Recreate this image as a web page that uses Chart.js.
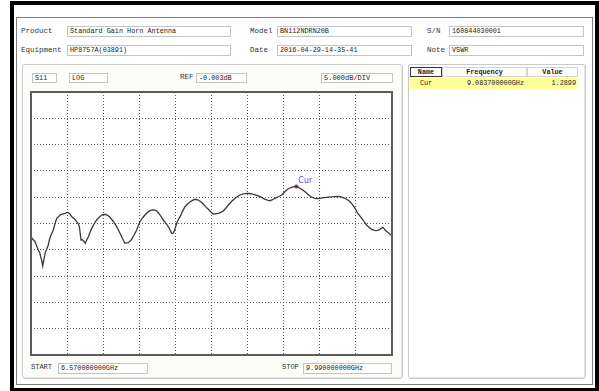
<!DOCTYPE html>
<html>
<head>
<meta charset="utf-8">
<script src="https://cdn.jsdelivr.net/npm/chart.js@4"></script>
<style>
  html, body { margin: 0; padding: 0; background: #fff; }
  body { width: 599px; height: 391px; position: relative; overflow: hidden;
         font-family: "Liberation Mono", "DejaVu Sans Mono", monospace; color: #222; }
  .abs { position: absolute; box-sizing: border-box; }
  .frame { left: 10px; top: 1px; width: 589px; height: 390px; border: 4px solid #000; border-bottom-width: 3px; }
  .win { left: 16px; top: 17px; width: 577px; height: 368px; border: 1px solid #7c7c7c; }
  .lbl { font-size: 7.5px; line-height: 11px; white-space: nowrap; color: #333; }
  .box { border: 1px solid #c4c4c4; background: #fff; font-size: 6.8px; line-height: 9px;
         padding-left: 2px; white-space: nowrap; overflow: hidden; }
  .panel { border: 1px solid #c9c9c9; border-radius: 3px; background: #fcfcf9;
           box-shadow: inset 1px 1px 0 #fff, inset -1px -1px 0 #e6e6e6; }
  .cell { font-size: 6.8px; line-height: 9px; white-space: nowrap; }
  .hdr { font-weight: bold; text-align: center; border: 1px solid #d4d4d4; background: #fff; }
  canvas { position: absolute; }
</style>
</head>
<body>
<div class="abs frame"></div>
<div class="abs win"></div>

<!-- header fields -->
<div class="abs lbl" style="left:21px; top:26px;">Product</div>
<div class="abs box" style="left:67px; top:26px; width:164px; height:11px;" id="fProduct"></div>
<div class="abs lbl" style="left:250px; top:26px;">Model</div>
<div class="abs box" style="left:277px; top:26px; width:135px; height:11px;" id="fModel"></div>
<div class="abs lbl" style="left:427px; top:26px;">S/N</div>
<div class="abs box" style="left:449px; top:26px; width:135px; height:11px;" id="fSn"></div>

<div class="abs lbl" style="left:21px; top:45px;">Equipment</div>
<div class="abs box" style="left:67px; top:45px; width:164px; height:11px;" id="fEquip"></div>
<div class="abs lbl" style="left:250px; top:45px;">Date</div>
<div class="abs box" style="left:277px; top:45px; width:135px; height:11px;" id="fDate"></div>
<div class="abs lbl" style="left:427px; top:45px;">Note</div>
<div class="abs box" style="left:449px; top:45px; width:135px; height:11px;" id="fNote"></div>

<!-- trace panel -->
<div class="abs panel" style="left:22px; top:64px; width:381px; height:315px;"></div>
<div class="abs box" style="left:32px; top:73px; width:25px; height:10px;" id="fParam"></div>
<div class="abs box" style="left:69px; top:73px; width:39px; height:10px;" id="fFormat"></div>
<div class="abs lbl" style="left:180px; top:72px;">REF</div>
<div class="abs box" style="left:196px; top:73px; width:51px; height:10px;" id="fRef"></div>
<div class="abs box" style="left:321px; top:73px; width:72px; height:10px; font-size:7px;" id="fScale"></div>

<div class="abs lbl" style="left:31px; top:362px; font-size:7px;">START</div>
<div class="abs box" style="left:58px; top:363px; width:90px; height:11px;" id="fStart"></div>
<div class="abs lbl" style="left:282px; top:362px; font-size:7px;">STOP</div>
<div class="abs box" style="left:303px; top:363px; width:89px; height:11px;" id="fStop"></div>

<!-- marker table panel -->
<div class="abs panel" style="left:408px; top:64px; width:178px; height:315px; background:#fff;"></div>
<div class="abs cell hdr" style="left:410px; top:67px; width:32px; height:10px; border:1.5px solid #333;">Name</div>
<div class="abs cell hdr" style="left:442px; top:67px; width:85px; height:10px;">Frequency</div>
<div class="abs cell hdr" style="left:527px; top:67px; width:51px; height:10px;">Value</div>
<div class="abs" style="left:410px; top:78px; width:167px; height:11px; background:#ffff9c;"></div>
<div class="abs cell" style="left:410px; top:79px; width:32px; text-align:center;" id="mName"></div>
<div class="abs cell" style="left:442px; top:79px; width:82px; text-align:right;" id="mFreq"></div>
<div class="abs cell" style="left:527px; top:79px; width:49px; text-align:right;" id="mVal"></div>

<canvas id="trace" width="369" height="271" style="left:27px; top:88px;"></canvas>

<script>
// Measurement header
const PRODUCT = 'Standard Gain Horn Antenna';
const MODEL = 'BN112NDRN20B';
const SERIAL = '160844030001';
const EQUIPMENT = 'HP8757A(03891)';
const DATE = '2016-04-29-14-35-41';
const NOTE = 'VSWR';

// Display settings
const PARAM = 'S11';
const FORMAT = 'LOG';
const REF_DB = -0.003;
const DB_PER_DIV = 5;
const START_GHZ = 6.57;
const STOP_GHZ = 9.99;

// Grid division positions (10 x 10)
const X_DIVS = [6.570, 6.912, 7.254, 7.596, 7.938, 8.280, 8.622, 8.964, 9.306, 9.648, 9.990];
const Y_DIVS = [-50.003, -45.003, -40.003, -35.003, -30.003, -25.003, -20.003, -15.003, -10.003, -5.003, -0.003];

// S11 trace (GHz, dB)
const FREQ_GHZ = [
  6.570, 6.585, 6.608, 6.625, 6.639, 6.652, 6.662, 6.672, 6.681, 6.690,
  6.703, 6.718, 6.734, 6.745, 6.757, 6.770, 6.781, 6.797, 6.813, 6.830,
  6.845, 6.868, 6.892, 6.910, 6.923, 6.940, 6.956, 6.980, 7.003, 7.018,
  7.028, 7.037, 7.044, 7.055, 7.066, 7.076, 7.084, 7.098, 7.113, 7.128,
  7.145, 7.168, 7.192, 7.216, 7.240, 7.256, 7.271, 7.295, 7.318, 7.350,
  7.382, 7.405, 7.429, 7.445, 7.460, 7.476, 7.492, 7.508, 7.524, 7.548,
  7.571, 7.587, 7.603, 7.626, 7.650, 7.673, 7.697, 7.721, 7.745, 7.760,
  7.776, 7.800, 7.823, 7.847, 7.871, 7.887, 7.903, 7.914, 7.925, 7.938,
  7.950, 7.966, 7.982, 8.005, 8.029, 8.052, 8.076, 8.100, 8.124, 8.140,
  8.155, 8.178, 8.202, 8.226, 8.250, 8.273, 8.297, 8.320, 8.344, 8.368,
  8.392, 8.415, 8.439, 8.470, 8.503, 8.527, 8.550, 8.582, 8.613, 8.637,
  8.661, 8.692, 8.723, 8.755, 8.787, 8.811, 8.834, 8.858, 8.882, 8.914,
  8.945, 8.968, 8.992, 9.016, 9.040, 9.062, 9.0837, 9.100, 9.118, 9.142,
  9.166, 9.190, 9.213, 9.237, 9.261, 9.284, 9.308, 9.340, 9.371, 9.402,
  9.434, 9.466, 9.497, 9.521, 9.545, 9.568, 9.592, 9.616, 9.640, 9.655,
  9.671, 9.687, 9.703, 9.727, 9.750, 9.774, 9.798, 9.822, 9.845, 9.860,
  9.876, 9.890, 9.902, 9.913, 9.924, 9.940, 9.955, 9.972, 9.990
];
const S11_DB = [
  -27.51, -27.95, -28.46, -29.35, -30.04, -30.52, -31.31, -32.10, -33.08, -32.05,
  -30.67, -29.88, -29.09, -28.05, -27.38, -26.70, -26.24, -25.05, -24.01, -23.72,
  -23.39, -23.21, -23.06, -22.89, -22.95, -23.25, -23.71, -24.10, -24.66, -25.05,
  -25.61, -27.02, -28.14, -28.05, -28.27, -28.52, -28.77, -28.15, -27.51, -26.78,
  -25.92, -25.06, -24.34, -23.80, -23.39, -23.30, -23.25, -23.45, -23.82, -24.62,
  -25.61, -26.52, -27.51, -28.20, -28.77, -28.70, -28.65, -28.40, -28.00, -27.15,
  -26.24, -25.40, -24.66, -23.95, -23.39, -22.88, -22.57, -22.40, -22.44, -22.61,
  -22.95, -23.60, -24.34, -24.95, -25.61, -26.20, -26.87, -26.92, -26.56, -25.80,
  -24.96, -24.25, -23.71, -22.70, -21.81, -21.30, -20.92, -20.60, -20.40, -20.45,
  -20.54, -20.86, -21.30, -21.85, -22.30, -22.80, -23.20, -23.15, -23.06, -22.90,
  -22.63, -22.10, -21.49, -20.82, -20.21, -19.88, -19.58, -19.35, -19.26, -19.30,
  -19.39, -19.55, -19.77, -20.05, -20.40, -20.55, -20.67, -20.48, -20.21, -19.92,
  -19.58, -19.12, -18.63, -18.30, -18.12, -18.00, -17.95, -18.10, -18.31, -18.60,
  -18.96, -19.40, -19.77, -20.05, -20.21, -20.28, -20.21, -20.10, -20.02, -19.95,
  -19.91, -19.85, -19.91, -20.02, -20.21, -20.50, -20.86, -21.40, -22.11, -22.70,
  -23.20, -23.60, -24.01, -24.70, -25.29, -25.75, -26.11, -26.30, -26.37, -26.25,
  -26.11, -25.90, -25.73, -25.95, -26.24, -26.52, -26.75, -27.05, -27.32
];

// Marker readout
const CURSOR_NAME = 'Cur';
const CURSOR_FREQ_GHZ = 9.0837;
const CURSOR_VSWR = 1.2899;

// VSWR -> return loss in dB, so the marker sits at the value it reports
const vswrToDb = v => 20 * Math.log10((v - 1) / (v + 1));

function setText(id, t) { document.getElementById(id).textContent = t; }
setText('fProduct', PRODUCT);
setText('fModel', MODEL);
setText('fSn', SERIAL);
setText('fEquip', EQUIPMENT);
setText('fDate', DATE);
setText('fNote', NOTE);
setText('fParam', PARAM);
setText('fFormat', FORMAT);
setText('fRef', REF_DB.toFixed(3) + 'dB');
setText('fScale', DB_PER_DIV.toFixed(3) + 'dB/DIV');
setText('fStart', START_GHZ.toFixed(9) + 'GHz');
setText('fStop', STOP_GHZ.toFixed(9) + 'GHz');
setText('mName', CURSOR_NAME);
setText('mFreq', CURSOR_FREQ_GHZ.toFixed(9) + 'GHz');
setText('mVal', CURSOR_VSWR.toFixed(4));

// White graticule background and solid frame around it
const graticule = {
  id: 'graticule',
  beforeDraw(chart) {
    const { ctx, chartArea: a } = chart;
    ctx.save();
    ctx.fillStyle = '#ffffff';
    ctx.fillRect(a.left, a.top, a.right - a.left, a.bottom - a.top);
    ctx.restore();
  },
  afterDraw(chart) {
    const { ctx, chartArea: a } = chart;
    ctx.save();
    ctx.strokeStyle = '#5c5c5c';
    ctx.lineWidth = 2;
    ctx.strokeRect(a.left, a.top, a.right - a.left, a.bottom - a.top);
    ctx.restore();
  }
};

// Marker name next to the marker point
const markerLabel = {
  id: 'markerLabel',
  afterDatasetsDraw(chart) {
    const pt = chart.getDatasetMeta(1).data[0];
    if (!pt) return;
    const ctx = chart.ctx;
    ctx.save();
    ctx.fillStyle = '#4b4bd0';
    ctx.font = '8px "DejaVu Sans", sans-serif';
    ctx.textBaseline = 'bottom';
    ctx.fillText(CURSOR_NAME, pt.x + 2, pt.y - 1);
    ctx.restore();
  }
};

const gridStyle = {
  color: '#5a5a5a',
  lineWidth: 1,
  drawTicks: false,
  borderDash: [1, 2]
};

new Chart(document.getElementById('trace'), {
  type: 'line',
  data: {
    datasets: [
      {
        data: FREQ_GHZ.map((f, i) => ({ x: f, y: S11_DB[i] })),
        borderColor: '#3a3a3a',
        borderWidth: 1.3,
        pointRadius: 0,
        tension: 0,
        fill: false
      },
      {
        type: 'scatter',
        data: [{ x: CURSOR_FREQ_GHZ, y: vswrToDb(CURSOR_VSWR) }],
        pointRadius: 2,
        pointBackgroundColor: '#e8202a',
        pointBorderColor: '#e8202a',
        pointBorderWidth: 0
      }
    ]
  },
  options: {
    responsive: false,
    animation: false,
    events: [],
    layout: { padding: 4 },
    plugins: { legend: { display: false }, tooltip: { enabled: false } },
    scales: {
      x: {
        type: 'linear',
        min: START_GHZ,
        max: STOP_GHZ,
        afterBuildTicks: s => { s.ticks = X_DIVS.map(v => ({ value: v })); },
        ticks: { display: false },
        grid: gridStyle,
        border: { display: false, dash: [1, 2] }
      },
      y: {
        type: 'linear',
        min: Y_DIVS[0],
        max: Y_DIVS[Y_DIVS.length - 1],
        afterBuildTicks: s => { s.ticks = Y_DIVS.map(v => ({ value: v })); },
        ticks: { display: false },
        grid: gridStyle,
        border: { display: false, dash: [1, 2] }
      }
    }
  },
  plugins: [graticule, markerLabel]
});
</script>
</body>
</html>
